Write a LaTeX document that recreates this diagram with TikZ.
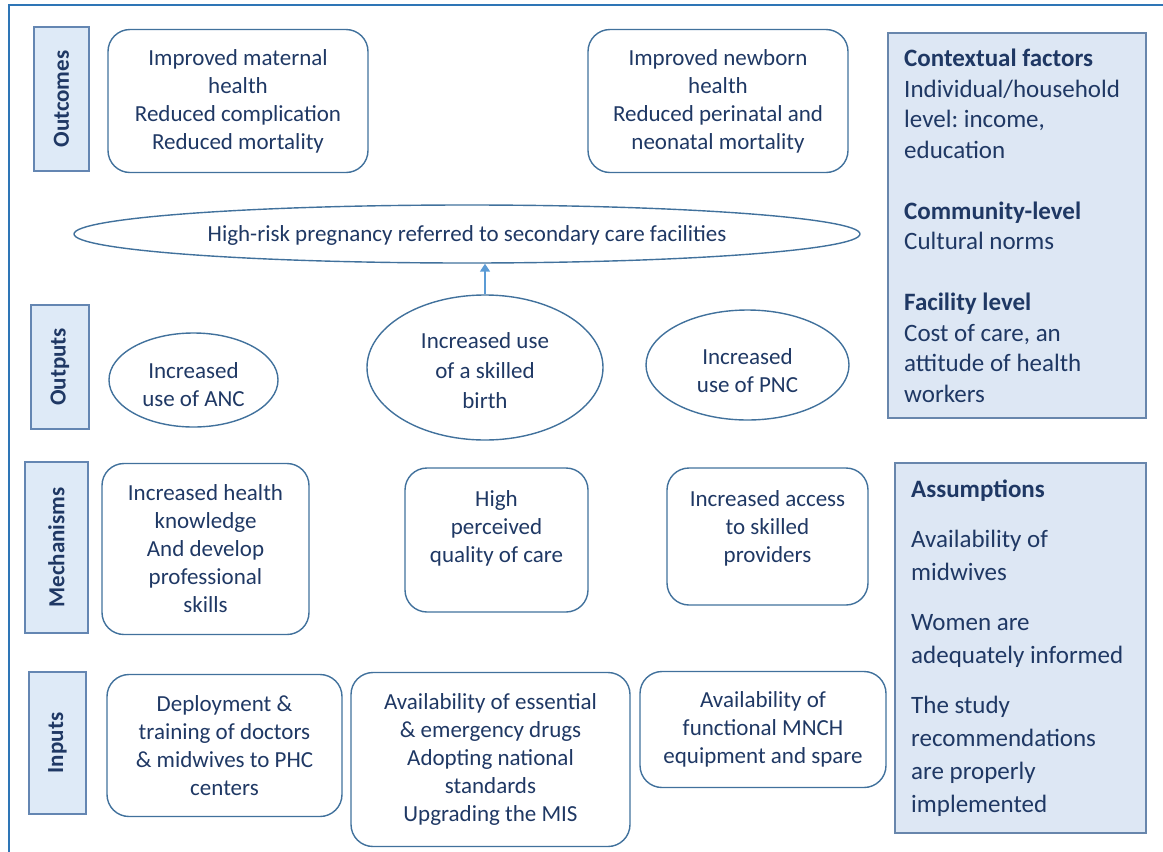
\documentclass[tikz,border=0pt]{standalone}
\usepackage{fontspec}
\setmainfont{Carlito}
\frenchspacing
\usetikzlibrary{shapes.geometric,arrows.meta}

\definecolor{navytext}{RGB}{31,56,100}
\definecolor{boxline}{RGB}{65,113,156}
\definecolor{tagfill}{RGB}{222,234,247}
\definecolor{tagline}{RGB}{100,134,178}
\definecolor{panelfill}{RGB}{221,231,244}
\definecolor{panelline}{RGB}{104,134,172}
\definecolor{framecol}{RGB}{46,117,182}
\definecolor{arrowcol}{RGB}{91,155,213}

\begin{document}
\begin{tikzpicture}[x=1pt, y=-1pt,
  every node/.style={text=navytext, inner sep=0pt},
  maintext/.style={font=\fontsize{23}{28}\selectfont, align=center},
  rbox/.style={maintext, draw=boxline, line width=1.4pt, rounded corners=22pt},
  oval/.style={maintext, draw=boxline, line width=1.4pt, ellipse},
  tag/.style={draw=tagline, fill=tagfill, line width=1.6pt, rotate=90, font=\fontsize{23}{28}\selectfont\bfseries},
  panel/.style={draw=panelline, fill=panelfill, line width=1.6pt, anchor=north west},
  paneltext/.style={anchor=north west, align=left}]

\useasboundingbox (0,0) rectangle (1163,852);
\draw [line width=2pt, framecol] (9,852) -- (9,5) -- (1163,5);

\node [tag, minimum width=144pt, minimum height=55pt] (outcomes) at (61.5,99) {Outcomes};
\node [tag, minimum width=124pt, minimum height=58pt] (outputs) at (60,367) {Outputs};
\node [tag, minimum width=171pt, minimum height=63pt] (mechanisms) at (56.5,547.5) {Mechanisms};
\node [tag, minimum width=142pt, minimum height=57pt] (inputs) at (57.5,743) {Inputs};

\node [rbox, minimum width=260pt, minimum height=143pt] (mathealth) at (238,101) {Improved maternal\\health\\Reduced complication\\Reduced mortality};
\node [rbox, minimum width=260pt, minimum height=143pt] (nbhealth) at (718,101) {Improved newborn\\health\\Reduced perinatal and\\neonatal mortality};

\node [panel, minimum width=258pt, minimum height=385pt] (context) at (887,32) {};
\node [paneltext, font=\fontsize{25}{30.5}\selectfont] (contexttext) at (904,49) {\textbf{Contextual factors}\\Individual/household\\level: income,\\education\\[30.5pt]\textbf{Community-level}\\Cultural norms\\[30.5pt]\textbf{Facility level}\\Cost of care, an\\attitude of health\\workers};

\node [oval, minimum width=786pt, minimum height=58pt] (referral) at (467,234) {};
\node [maintext] (referraltext) at (467,235.5) {High-risk pregnancy referred to secondary care facilities};

\node [oval, minimum width=169pt, minimum height=94pt] (anc) at (193.5,380) {};
\node [maintext] (anctext) at (193.5,385) {Increased\\use of ANC};
\node [oval, minimum width=236pt, minimum height=145pt] (birth) at (485,367.5) {};
\node [maintext, font=\fontsize{23}{30}\selectfont] (birthtext) at (485,370.5) {Increased use\\of a skilled\\birth};
\node [oval, minimum width=203pt, minimum height=110pt] (pnc) at (747.5,365) {};
\node [maintext] (pnctext) at (747.5,371) {Increased\\use of PNC};

\draw [arrowcol, line width=1.5pt, -{Triangle[width=10pt,length=8pt]}] (birth.north) -- (birth.north |- referral.south);

\node [rbox, minimum width=207pt, minimum height=171pt] (knowledge) at (205.5,549) {Increased health\\knowledge\\And develop\\professional\\skills};
\node [rbox, minimum width=183pt, minimum height=144pt] (qualitybox) at (496.5,540) {};
\node [maintext] (quality) at (496.5,528.5) {High\\perceived\\quality of care};
\node [rbox, minimum width=201pt, minimum height=137pt] (accessbox) at (767.5,536.5) {};
\node [maintext] (access) at (767.5,528.5) {Increased access\\to skilled\\providers};

\node [panel, minimum width=251pt, minimum height=370pt] (assumptions) at (894,462) {};
\node [paneltext, font=\fontsize{25}{33}\selectfont] (assumptext) at (911,480) {\textbf{Assumptions}\\[17pt]Availability of\\midwives\\[17pt]Women are\\adequately informed\\[17pt]The study\\recommendations\\are properly\\implemented};

\node [rbox, minimum width=235pt, minimum height=142pt] (deploy) at (224.5,745.5) {Deployment \&\\training of doctors\\\& midwives to PHC\\centers};
\node [rbox, minimum width=279pt, minimum height=174pt] (drugs) at (490.5,759.5) {Availability of essential\\\& emergency drugs\\Adopting national\\standards\\Upgrading the MIS};
\node [rbox, minimum width=246pt, minimum height=116pt] (equip) at (763,729.5) {Availability of\\functional MNCH\\equipment and spare};

\end{tikzpicture}
\end{document}
